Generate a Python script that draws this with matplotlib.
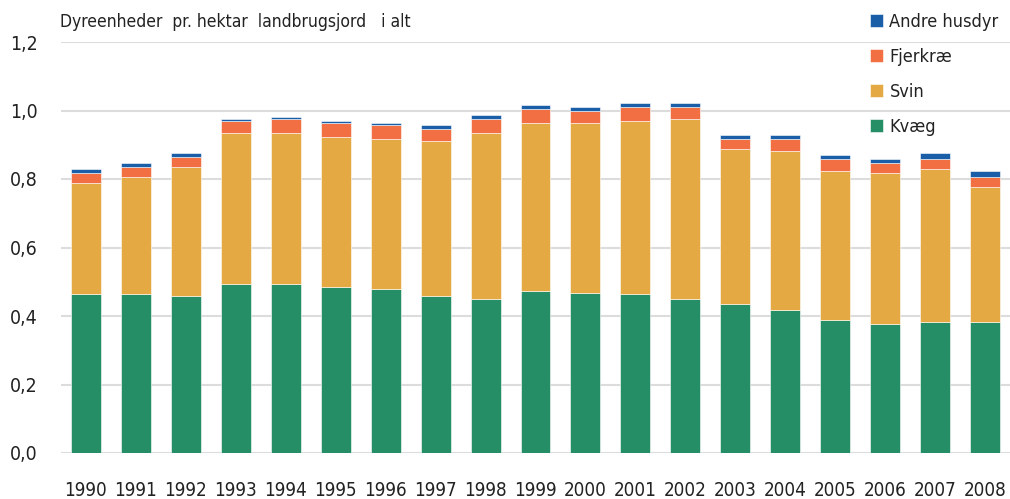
import matplotlib
matplotlib.use("Agg")
import matplotlib.pyplot as plt
import numpy as np

years = [str(y) for y in range(1990, 2009)]
kvaeg = [0.464, 0.464, 0.458, 0.492, 0.492, 0.486, 0.480, 0.458, 0.451, 0.474,
         0.468, 0.464, 0.451, 0.434, 0.417, 0.387, 0.376, 0.382, 0.382]
svin = [0.324, 0.342, 0.377, 0.442, 0.442, 0.436, 0.436, 0.452, 0.483, 0.489,
        0.495, 0.505, 0.524, 0.453, 0.464, 0.436, 0.441, 0.447, 0.394]
fjerkrae = [0.029, 0.029, 0.029, 0.035, 0.041, 0.041, 0.041, 0.035, 0.041, 0.041,
            0.035, 0.041, 0.035, 0.029, 0.035, 0.035, 0.029, 0.029, 0.030]
andre = [0.012, 0.011, 0.011, 0.006, 0.006, 0.006, 0.006, 0.012, 0.011, 0.012,
         0.012, 0.012, 0.012, 0.012, 0.012, 0.011, 0.012, 0.017, 0.017]
series_names = ["Kvæg", "Svin", "Fjerkræ", "Andre husdyr"]
colors = ["#258E66", "#E5A944", "#F26F43", "#1B5EA8"]
yticks = [0.0, 0.2, 0.4, 0.6, 0.8, 1.0, 1.2]
title = "Dyreenheder  pr. hektar  landbrugsjord   i alt"

plt.rcParams['font.family'] = ['DejaVu Sans']
plt.rcParams['font.stretch'] = 'condensed'

fig = plt.figure(figsize=(10.10, 4.99), dpi=100)
ax = fig.add_axes([61/1010, 1-453/499, 1-61/1010, (453-42)/499])

x = np.arange(len(years))
bottom = np.zeros(len(years))
handles = []
for name, vals, c in zip(series_names, [kvaeg, svin, fjerkrae, andre], colors):
    b = ax.bar(x, vals, width=0.6, bottom=bottom, color=c, edgecolor="white",
               linewidth=0.4, label=name, zorder=3)
    handles.append(b)
    bottom += np.array(vals)

ax.set_ylim(0, 1.2)
ax.set_xlim(-0.5, len(years) - 0.5)
ax.set_yticks(yticks)
ax.set_yticklabels([f"{v:.1f}".replace(".", ",") for v in yticks], fontsize=14, color="#222222")
ax.set_xticks(x)
ax.set_xticklabels(years, fontsize=13.5, color="#222222")
ax.tick_params(axis="both", length=0)
ax.tick_params(axis="x", pad=20)
ax.tick_params(axis="y", pad=17)
for s in ax.spines.values():
    s.set_visible(False)
ax.yaxis.grid(True, color="#DCDCDC", linewidth=1.5, zorder=0)
ax.set_axisbelow(True)

fig.text(60/1010, 1-22/499, title, fontsize=12.5, color="#222222", va="center", ha="left")

leg = fig.legend(handles[::-1], series_names[::-1], loc="upper left",
                 bbox_to_anchor=(857/1010, 1.0), frameon=False, fontsize=13,
                 handlelength=0.75, handleheight=0.75, handletextpad=0.35,
                 labelspacing=0.95, borderaxespad=0.3)
for t in leg.get_texts():
    t.set_color("#222222")

fig.savefig("out.png", dpi=100)
